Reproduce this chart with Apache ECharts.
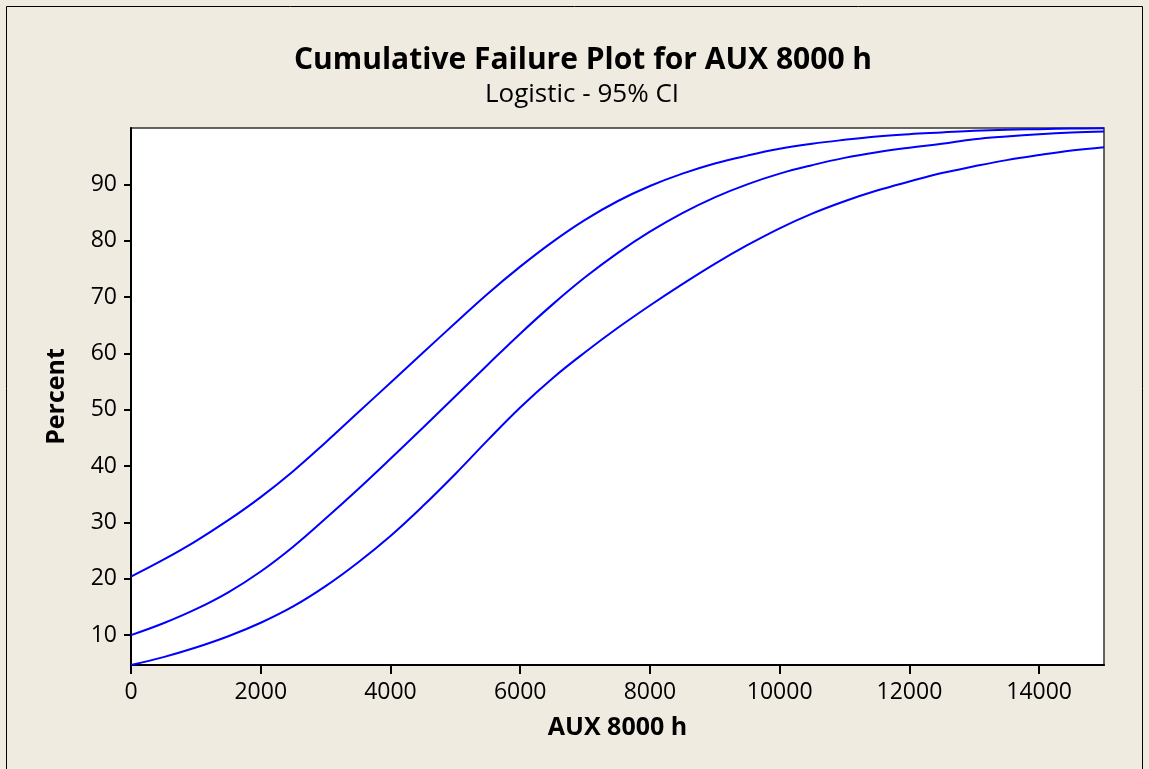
<!DOCTYPE html>
<html>
<head>
<meta charset="utf-8">
<script src="https://cdn.jsdelivr.net/npm/echarts@6/dist/echarts.min.js"></script>
<style>
html,body{margin:0;padding:0;background:#EFEBE1;}
#chart{width:1149px;height:769px;}
</style>
</head>
<body>
<div id="chart"></div>
<script>
// ---- data ----
const xValues = [0,500,1000,1500,2000,2500,3000,3500,4000,4500,5000,5500,6000,6500,7000,7500,8000,8500,9000,9500,10000,10500,11000,11500,12000,12500,13000,13500,14000,14500,15000];
const upperCI = [20.4,23.4,26.7,30.4,34.5,39.1,44.2,49.5,54.8,60.1,65.4,70.6,75.4,79.8,83.7,87.0,89.7,91.9,93.7,95.1,96.3,97.2,97.9,98.5,98.9,99.2,99.5,99.7,99.8,99.9,99.95];
const fitted  = [10.0,12.1,14.6,17.6,21.3,25.7,30.7,35.9,41.3,46.8,52.4,58.0,63.5,68.7,73.5,77.8,81.6,84.9,87.7,90.0,91.9,93.4,94.7,95.7,96.5,97.2,98.0,98.5,98.9,99.2,99.4];
const lowerCI = [4.7,6.1,7.8,9.8,12.2,15.1,18.7,22.9,27.6,32.9,38.6,44.6,50.4,55.6,60.2,64.5,68.5,72.3,75.9,79.2,82.2,84.8,87.0,88.9,90.5,92.0,93.2,94.3,95.2,96.0,96.6];
const xTicks = [0,2000,4000,6000,8000,10000,12000,14000];
const yTicks = [10,20,30,40,50,60,70,80,90];
const titleText = 'Cumulative Failure Plot for AUX 8000 h';
const subtitleText = 'Logistic - 95% CI';
const xName = 'AUX 8000 h';
const yName = 'Percent';

const pairs = arr => xValues.map((x, i) => [x, arr[i]]);
const FONT = '"Open Sans", sans-serif';
const lineStyle = {color: '#0000FF', width: 2};

const chart = echarts.init(document.getElementById('chart'), null, {renderer: 'canvas'});
chart.setOption({
  backgroundColor: '#EFEBE1',
  animation: false,
  graphic: [
    {type: 'rect', shape: {x: 6.5, y: 6.5, width: 1136, height: 800}, style: {fill: 'none', stroke: '#000', lineWidth: 1}, silent: true},
    {type: 'text', silent: true, style: {text: titleText, x: 583, y: 60, align: 'center', verticalAlign: 'middle', font: 'bold 30px ' + FONT, fill: '#000'}},
    {type: 'text', silent: true, style: {text: subtitleText, x: 582, y: 95, align: 'center', verticalAlign: 'middle', font: '26px ' + FONT, fill: '#000'}}
  ],
  grid: {left: 131, top: 128, right: 45, bottom: 104, show: true, backgroundColor: '#FFFFFF', borderColor: '#333', borderWidth: 1.5},
  xAxis: {
    type: 'value', min: 0, max: 15000,
    name: xName, nameLocation: 'middle', nameGap: 50,
    nameTextStyle: {fontFamily: FONT, fontWeight: 'bold', fontSize: 25, color: '#000'},
    axisLine: {show: true, onZero: false, lineStyle: {color: '#000', width: 2}},
    axisTick: {show: true, customValues: xTicks, length: 9, lineStyle: {color: '#000', width: 2}},
    axisLabel: {customValues: xTicks, margin: 16, fontFamily: FONT, fontSize: 23, color: '#000', formatter: v => String(v)},
    splitLine: {show: false}
  },
  yAxis: {
    type: 'value', min: 4.7, max: 100,
    name: yName, nameLocation: 'middle', nameGap: 62, nameRotate: 90,
    nameTextStyle: {fontFamily: FONT, fontWeight: 'bold', fontSize: 25, color: '#000'},
    axisLine: {show: true, onZero: false, lineStyle: {color: '#000', width: 2}},
    axisTick: {show: true, customValues: yTicks, length: 7, lineStyle: {color: '#000', width: 2}},
    axisLabel: {customValues: yTicks, margin: 14, fontFamily: FONT, fontSize: 23, color: '#000', formatter: v => String(v)},
    splitLine: {show: false}
  },
  series: [
    {name: 'Upper', type: 'line', data: pairs(upperCI), smooth: 0.4, showSymbol: false, lineStyle: lineStyle},
    {name: 'Fit', type: 'line', data: pairs(fitted), smooth: 0.4, showSymbol: false, lineStyle: lineStyle},
    {name: 'Lower', type: 'line', data: pairs(lowerCI), smooth: 0.4, showSymbol: false, lineStyle: lineStyle}
  ]
});
</script>
</body>
</html>
